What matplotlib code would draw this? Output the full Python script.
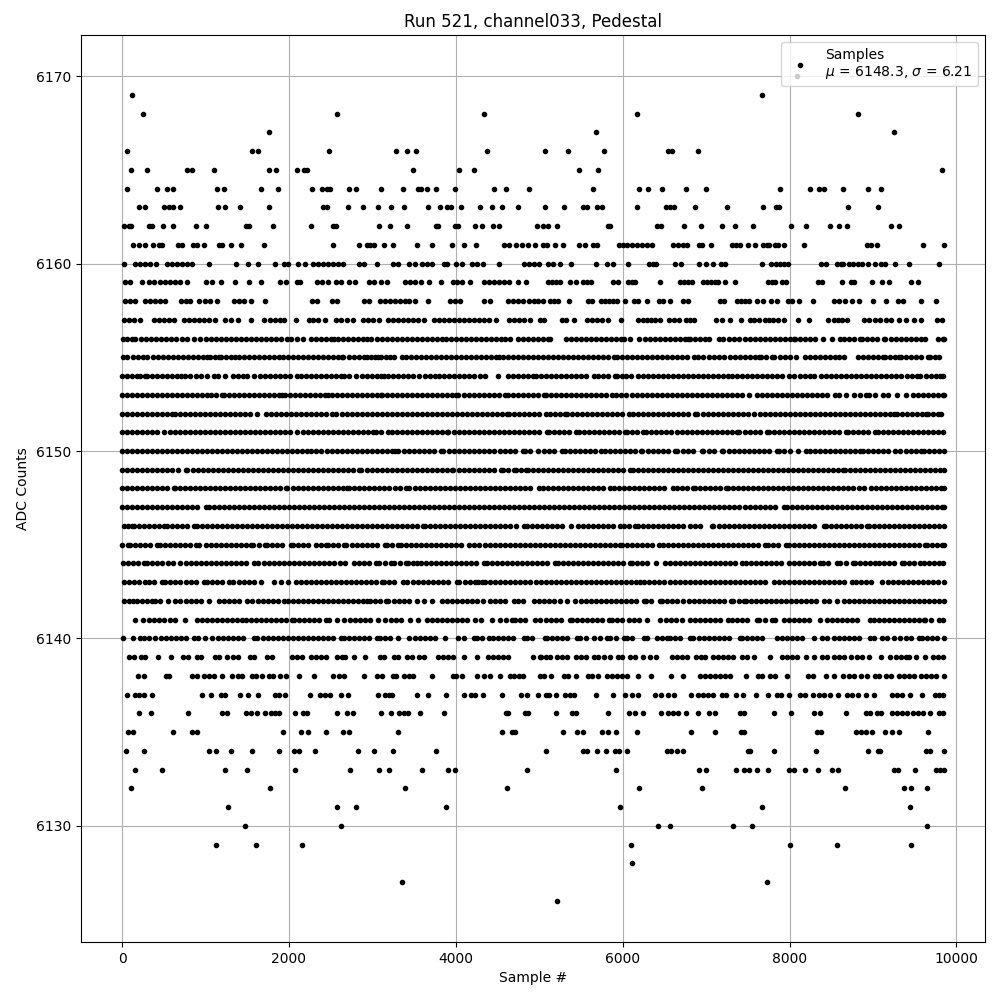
#!/usr/bin/env python3

'''
pedestal samples of one channel, values read off the picture row by row
'''

import matplotlib
matplotlib.use('Agg')
import matplotlib.pyplot as plt

# sample numbers at each ADC count
s6170=[8084]
s6169=[116, 7668]
s6168=[248, 2576, 4340, 6168, 8820]
s6167=[1760, 5676, 9252]
s6166=[56, 1556, 1628, 2480, 3284, 3416, 3524, 4376, 5064, 5340, 5772, 6540, 6588, 6900]
s6165=[104, 296, 776, 836, 1100, 1760, 1844, 2096, 2180, 2220, 3488, 4040, 4220, 5472, 5700, 9828]
s6164=[56, 416, 536, 608, 1136, 1220, 1664, 1868, 2276, 2396, 2452, 2492, 2720, 2804, 3104, 3368, 3548, 3588, 3656, 3764, 3992, 4460, 4604, 4880, 5640, 6192, 6300, 6468, 6756, 6996, 7884, 8244, 8352, 8412, 8640, 8940, 9096]
s6163=[200, 272, 500, 560, 608, 692, 1148, 1232, 1412, 1760, 2408, 2456, 2708, 2888, 3068, 3224, 3380, 3668, 3812, 3900, 3944, 4064, 4292, 4436, 4556, 4748, 5064, 5292, 5520, 5568, 5688, 5748, 6168, 6516, 6564, 6612, 6864, 7248, 7680, 7836, 7872, 8700, 9060]
s6162=[20, 80, 108, 320, 360, 488, 608, 884, 1004, 1484, 1524, 1808, 2264, 2528, 2568, 3080, 3212, 3416, 3764, 3788, 3992, 4028, 4232, 4316, 4448, 4520, 4968, 5040, 5100, 5208, 5820, 5844, 6408, 6456, 6732, 6936, 7188, 7344, 7560, 8016, 8196, 8484, 8592, 8688, 9216, 9312]
s6161=[128, 200, 272, 368, 440, 484, 668, 716, 848, 896, 980, 1160, 1196, 1304, 1424, 1700, 2528, 2840, 2936, 2972, 3020, 3140, 3248, 3536, 3716, 3956, 4100, 4244, 4580, 4640, 4724, 4796, 4868, 4944, 5040, 5088, 5184, 5280, 5472, 5544, 5640, 5688, 5952, 6000, 6048, 6108, 6168, 6228, 6288, 6348, 6600, 6660, 6720, 6768, 6912, 6948, 7056, 7308, 7356, 7404, 7500, 7584, 7680, 7728, 7752, 7824, 7860, 7932, 8172, 8928, 8976, 9048, 9600, 9850]
s6160=[20, 160, 220, 280, 340, 412, 540, 600, 660, 720, 772, 840, 1040, 1364, 1508, 1628, 1836, 1940, 1988, 2108, 2192, 2288, 2348, 2408, 2468, 2528, 2588, 2648, 2840, 2900, 3060, 3248, 3308, 3440, 3512, 3596, 3656, 3716, 3860, 3900, 4004, 4076, 4196, 4256, 4328, 4520, 4820, 4880, 4940, 5000, 5100, 5160, 5244, 5380, 5676, 5808, 5880, 6060, 6312, 6360, 6396, 6624, 6696, 6912, 6996, 7080, 7176, 7224, 7668, 7776, 7836, 7884, 7932, 7980, 8376, 8436, 8568, 8616, 8640, 8712, 8764, 8820, 8868, 8940, 9024, 9096, 9144, 9260, 9432, 9792]
s6159=[32, 92, 240, 320, 380, 460, 520, 580, 640, 700, 772, 1004, 1076, 1188, 1352, 1520, 1664, 1892, 1964, 2096, 2132, 2336, 2396, 2468, 2564, 2624, 2720, 2792, 2960, 3020, 3100, 3180, 3392, 3452, 3512, 3584, 3680, 3824, 3968, 4020, 4080, 4172, 4340, 4400, 4460, 4520, 4580, 4640, 4740, 4840, 5100, 5148, 5196, 5244, 5364, 5436, 5520, 5568, 5616, 5880, 5940, 6060, 6108, 6144, 6444, 6684, 6732, 6780, 6828, 6960, 7008, 7056, 7104, 7140, 7224, 7344, 7740, 7788, 7824, 7908, 7956, 8340, 8388, 8628, 8736, 8772, 8994, 9102, 9186, 9456, 9540]
s6158=[40, 100, 160, 280, 340, 400, 460, 520, 708, 760, 812, 920, 992, 1052, 1136, 1340, 1400, 1460, 1548, 1708, 2276, 2336, 2516, 2576, 2900, 2960, 3092, 3152, 3212, 3272, 3332, 3392, 3440, 3512, 3668, 3932, 3992, 4052, 4340, 4412, 4628, 4688, 4748, 4808, 4880, 4932, 4980, 5040, 5124, 5172, 5220, 5352, 5580, 5628, 5736, 5784, 5832, 5880, 5928, 6024, 6132, 6180, 6288, 6432, 6480, 6564, 6720, 6780, 7164, 7212, 7368, 7416, 7464, 7512, 7608, 7680, 7776, 7848, 7980, 8028, 8112, 8280, 8532, 8592, 8664, 8748, 8832, 8998, 9156, 9294, 9354, 9576, 9756]
s6157=[20, 80, 140, 220, 380, 440, 500, 560, 620, 740, 800, 860, 920, 980, 1040, 1112, 1232, 1304, 1388, 1540, 1700, 1772, 1832, 1892, 1940, 2084, 2240, 2288, 2348, 2432, 2564, 2624, 2696, 2768, 2888, 2948, 3008, 3080, 3188, 3248, 3308, 3368, 3428, 3488, 3548, 3620, 3740, 3800, 3860, 3920, 3980, 4040, 4100, 4160, 4220, 4280, 4340, 4400, 4480, 4640, 4700, 4760, 4820, 4892, 5004, 5052, 5268, 5316, 5412, 5568, 5628, 5688, 5748, 5820, 5976, 6180, 6240, 6288, 6336, 6384, 6444, 6552, 6612, 6672, 6756, 6804, 6852, 7116, 7188, 7284, 7416, 7524, 7572, 7632, 7704, 7752, 7800, 7860, 7932, 8100, 8232, 8460, 8532, 8580, 8628, 8688, 8898, 8958, 9030, 9090, 9150, 9210, 9306, 9390, 9486, 9570, 9762, 9822]
s6156=[10, 60, 120, 160, 228, 290, 350, 410, 470, 530, 590, 650, 720, 780, 860, 932, 1000, 1060, 1120, 1188, 1250, 1310, 1370, 1430, 1490, 1550, 1610, 1670, 1730, 1790, 1850, 1910, 1980, 2030, 2100, 2172, 2260, 2320, 2380, 2440, 2500, 2540, 2590, 2650, 2710, 2770, 2830, 2890, 2940, 2985, 3050, 3110, 3170, 3230, 3290, 3350, 3410, 3470, 3530, 3590, 3650, 3710, 3770, 3832, 3880, 3940, 4000, 4060, 4120, 4180, 4240, 4300, 4360, 4420, 4480, 4540, 4592, 4644, 4744, 4800, 4860, 4920, 4980, 5040, 5100, 5132, 5324, 5384, 5440, 5500, 5560, 5620, 5680, 5740, 5800, 5860, 5920, 5980, 6012, 6092, 6192, 6272, 6330, 6390, 6448, 6510, 6570, 6630, 6690, 6750, 6788, 6808, 6870, 6930, 6988, 7040, 7160, 7208, 7270, 7330, 7390, 7468, 7520, 7580, 7640, 7700, 7760, 7820, 7880, 7940, 8000, 8048, 8068, 8130, 8190, 8250, 8308, 8396, 8508, 8600, 8648, 8710, 8770, 8848, 8868, 8930, 8990, 9050, 9128, 9148, 9210, 9270, 9330, 9390, 9450, 9510, 9570, 9628, 9776, 9840, 9850]
s6155=[5, 60, 125, 185, 245, 300, 365, 425, 485, 545, 605, 665, 730, 790, 850, 910, 970, 1020, 1052, 1110, 1160, 1188, 1250, 1300, 1348, 1400, 1460, 1520, 1580, 1640, 1700, 1760, 1820, 1880, 1928, 1990, 2050, 2110, 2170, 2230, 2290, 2350, 2410, 2470, 2530, 2590, 2640, 2652, 2715, 2775, 2835, 2895, 2940, 2980, 3030, 3072, 3100, 3160, 3215, 3260, 3352, 3404, 3465, 3525, 3585, 3645, 3705, 3765, 3825, 3885, 3945, 4004, 4064, 4125, 4185, 4245, 4305, 4365, 4425, 4480, 4512, 4560, 4620, 4680, 4740, 4800, 4860, 4920, 4980, 5040, 5100, 5160, 5220, 5280, 5340, 5400, 5460, 5520, 5580, 5640, 5700, 5760, 5820, 5892, 5932, 5990, 6050, 6110, 6170, 6230, 6290, 6350, 6410, 6472, 6536, 6595, 6655, 6715, 6775, 6856, 6908, 6968, 7030, 7090, 7150, 7210, 7288, 7348, 7410, 7470, 7530, 7590, 7628, 7660, 7720, 7788, 7816, 7880, 7940, 8000, 8080, 8188, 8250, 8310, 8370, 8430, 8490, 8540, 8588, 8648, 8816, 8875, 8935, 8995, 9055, 9115, 9148, 9208, 9265, 9308, 9340, 9400, 9460, 9520, 9580, 9660, 9680, 9740, 9796]
s6154=[0, 60, 120, 180, 212, 272, 300, 360, 420, 480, 540, 600, 660, 712, 752, 815, 880, 945, 1020, 1100, 1148, 1228, 1332, 1395, 1455, 1500, 1580, 1652, 1715, 1775, 1835, 1895, 1955, 2015, 2092, 2148, 2200, 2260, 2320, 2380, 2440, 2500, 2560, 2620, 2660, 2720, 2800, 2880, 2932, 2990, 3050, 3100, 3140, 3192, 3244, 3305, 3365, 3425, 3484, 3564, 3625, 3685, 3752, 3800, 3860, 3920, 3980, 4040, 4100, 4160, 4220, 4292, 4352, 4504, 4620, 4680, 4740, 4800, 4860, 4924, 4960, 5020, 5080, 5140, 5200, 5260, 5320, 5380, 5440, 5500, 5560, 5660, 5700, 5760, 5820, 5904, 5932, 5990, 6044, 6100, 6184, 6245, 6305, 6365, 6425, 6485, 6545, 6605, 6665, 6725, 6785, 6845, 6905, 6965, 7025, 7085, 7145, 7205, 7265, 7308, 7368, 7430, 7490, 7550, 7610, 7670, 7730, 7790, 7850, 7908, 7988, 8050, 8128, 8180, 8240, 8296, 8376, 8435, 8495, 8555, 8615, 8675, 8735, 8795, 8855, 8915, 8975, 9035, 9095, 9155, 9215, 9276, 9336, 9408, 9468, 9528, 9568, 9630, 9690, 9750, 9800, 9840]
s6153=[0, 60, 120, 180, 240, 300, 360, 420, 480, 540, 600, 660, 720, 780, 840, 900, 960, 1020, 1060, 1130, 1200, 1220, 1285, 1345, 1405, 1465, 1525, 1585, 1645, 1705, 1765, 1825, 1885, 1920, 1948, 2010, 2070, 2130, 2190, 2250, 2310, 2370, 2430, 2472, 2520, 2580, 2640, 2700, 2760, 2820, 2880, 2940, 3000, 3060, 3100, 3120, 3180, 3240, 3300, 3360, 3420, 3480, 3540, 3600, 3652, 3712, 3775, 3835, 3895, 3955, 4004, 4032, 4095, 4155, 4215, 4275, 4335, 4395, 4455, 4515, 4592, 4620, 4680, 4740, 4800, 4860, 4920, 4980, 5052, 5076, 5140, 5200, 5260, 5320, 5380, 5440, 5500, 5560, 5620, 5680, 5740, 5800, 5872, 5920, 5980, 6040, 6112, 6172, 6235, 6295, 6355, 6415, 6475, 6535, 6595, 6655, 6715, 6775, 6835, 6895, 6955, 7015, 7075, 7135, 7195, 7255, 7315, 7375, 7435, 7516, 7608, 7670, 7730, 7790, 7850, 7910, 7970, 8030, 8090, 8150, 8210, 8270, 8330, 8390, 8450, 8548, 8588, 8676, 8768, 8840, 8916, 8956, 9028, 9116, 9180, 9288, 9396, 9476, 9535, 9595, 9655, 9715, 9775, 9835, 9850]
s6152=[2, 60, 120, 180, 240, 300, 360, 420, 480, 540, 600, 640, 692, 755, 815, 875, 935, 995, 1055, 1115, 1175, 1235, 1295, 1355, 1415, 1475, 1535, 1620, 1720, 1780, 1840, 1900, 1960, 2020, 2080, 2140, 2200, 2260, 2320, 2380, 2440, 2520, 2568, 2630, 2690, 2750, 2810, 2870, 2930, 2990, 3050, 3110, 3170, 3230, 3290, 3350, 3410, 3470, 3530, 3590, 3650, 3710, 3770, 3830, 3890, 3950, 4010, 4070, 4130, 4190, 4250, 4310, 4370, 4430, 4490, 4550, 4612, 4632, 4695, 4755, 4815, 4875, 4935, 4995, 5080, 5124, 5185, 5245, 5312, 5332, 5395, 5455, 5515, 5575, 5635, 5695, 5755, 5815, 5875, 5935, 5995, 6072, 6120, 6180, 6240, 6300, 6360, 6420, 6480, 6540, 6600, 6660, 6720, 6780, 6868, 6896, 6960, 7020, 7080, 7140, 7200, 7260, 7320, 7380, 7440, 7500, 7576, 7640, 7700, 7760, 7820, 7880, 7940, 8000, 8060, 8120, 8180, 8240, 8300, 8360, 8420, 8480, 8540, 8600, 8660, 8720, 8780, 8840, 8900, 8960, 9020, 9080, 9140, 9200, 9248, 9288, 9350, 9410, 9470, 9530, 9590, 9640, 9660, 9720, 9780, 9820]
s6151=[0, 60, 120, 180, 240, 300, 360, 420, 500, 572, 635, 695, 755, 815, 875, 935, 995, 1055, 1115, 1175, 1235, 1295, 1355, 1415, 1475, 1535, 1595, 1655, 1715, 1775, 1835, 1895, 1955, 2015, 2100, 2168, 2230, 2290, 2350, 2410, 2470, 2530, 2590, 2650, 2710, 2770, 2830, 2890, 2950, 3012, 3040, 3100, 3192, 3232, 3295, 3355, 3415, 3475, 3535, 3595, 3655, 3715, 3775, 3835, 3892, 3912, 3975, 4035, 4095, 4155, 4215, 4275, 4335, 4395, 4455, 4515, 4575, 4635, 4695, 4755, 4815, 4875, 4935, 4995, 5092, 5112, 5175, 5235, 5295, 5355, 5440, 5472, 5535, 5595, 5655, 5715, 5775, 5835, 5895, 5955, 6032, 6052, 6115, 6175, 6244, 6284, 6345, 6405, 6465, 6525, 6585, 6645, 6705, 6765, 6825, 6885, 6945, 7005, 7065, 7125, 7185, 7245, 7305, 7368, 7400, 7460, 7520, 7580, 7640, 7728, 7748, 7810, 7870, 7930, 7990, 8050, 8110, 8170, 8230, 8290, 8350, 8410, 8470, 8530, 8590, 8680, 8696, 8760, 8820, 8880, 8940, 9028, 9064, 9125, 9185, 9245, 9305, 9365, 9425, 9485, 9545, 9605, 9665, 9725, 9785, 9845]
s6150=[0, 60, 120, 180, 240, 300, 360, 420, 480, 540, 600, 660, 720, 780, 840, 900, 960, 1020, 1080, 1140, 1200, 1260, 1320, 1380, 1440, 1500, 1560, 1620, 1680, 1740, 1800, 1860, 1920, 1980, 2040, 2100, 2160, 2220, 2260, 2328, 2388, 2450, 2510, 2570, 2630, 2690, 2750, 2810, 2870, 2930, 2990, 3050, 3110, 3170, 3230, 3276, 3312, 3375, 3435, 3495, 3555, 3615, 3675, 3735, 3820, 3852, 3915, 3975, 4035, 4095, 4155, 4215, 4275, 4335, 4395, 4455, 4524, 4584, 4650, 4710, 4804, 4828, 4890, 4984, 5056, 5120, 5180, 5276, 5304, 5365, 5425, 5485, 5545, 5605, 5665, 5744, 5784, 5845, 5905, 5965, 6025, 6085, 6145, 6220, 6236, 6300, 6360, 6420, 6480, 6540, 6628, 6656, 6720, 6780, 6840, 6948, 6968, 7030, 7090, 7188, 7208, 7270, 7330, 7390, 7450, 7510, 7570, 7630, 7690, 7750, 7848, 7868, 7930, 8000, 8096, 8196, 8240, 8300, 8360, 8420, 8480, 8540, 8600, 8660, 8720, 8780, 8848, 8876, 8940, 9000, 9060, 9120, 9180, 9268, 9328, 9390, 9450, 9510, 9576, 9608, 9670, 9730, 9790, 9850]
s6149=[0, 60, 120, 180, 240, 300, 360, 420, 480, 540, 600, 668, 760, 780, 845, 905, 965, 1025, 1085, 1145, 1205, 1265, 1325, 1385, 1445, 1505, 1565, 1625, 1685, 1745, 1805, 1865, 1925, 1985, 2045, 2105, 2165, 2225, 2285, 2345, 2405, 2465, 2525, 2585, 2645, 2705, 2765, 2840, 2868, 2930, 2990, 3050, 3110, 3170, 3230, 3290, 3350, 3410, 3470, 3530, 3590, 3650, 3710, 3770, 3830, 3890, 3952, 3972, 4035, 4095, 4155, 4215, 4275, 4335, 4395, 4455, 4540, 4560, 4625, 4692, 4720, 4780, 4840, 4860, 4925, 4985, 5045, 5105, 5165, 5225, 5285, 5345, 5405, 5465, 5525, 5585, 5645, 5705, 5765, 5825, 5885, 5945, 6005, 6092, 6120, 6180, 6240, 6300, 6360, 6420, 6480, 6540, 6600, 6660, 6720, 6780, 6840, 6900, 6960, 7020, 7080, 7140, 7200, 7260, 7320, 7380, 7440, 7500, 7560, 7620, 7680, 7740, 7800, 7860, 7920, 7980, 8040, 8100, 8160, 8220, 8280, 8340, 8400, 8460, 8520, 8580, 8640, 8660, 8725, 8785, 8845, 8905, 8965, 9025, 9085, 9145, 9205, 9265, 9325, 9385, 9445, 9505, 9565, 9625, 9685, 9745, 9805, 9850]
s6148=[0, 60, 120, 180, 240, 300, 360, 420, 480, 540, 620, 632, 695, 755, 815, 875, 935, 995, 1055, 1115, 1175, 1235, 1295, 1355, 1415, 1475, 1535, 1595, 1655, 1715, 1775, 1835, 1895, 1960, 1980, 2045, 2105, 2165, 2225, 2285, 2345, 2405, 2465, 2525, 2585, 2645, 2700, 2720, 2785, 2845, 2905, 2965, 3025, 3085, 3145, 3205, 3265, 3325, 3404, 3444, 3505, 3565, 3625, 3685, 3745, 3805, 3865, 3925, 3985, 4045, 4105, 4165, 4225, 4285, 4345, 4405, 4465, 4525, 4585, 4645, 4705, 4765, 4825, 4885, 4992, 5040, 5100, 5160, 5220, 5280, 5340, 5400, 5460, 5520, 5580, 5640, 5700, 5760, 5852, 5900, 5952, 6015, 6075, 6135, 6195, 6255, 6315, 6375, 6435, 6495, 6600, 6648, 6710, 6770, 6840, 6864, 6925, 6985, 7045, 7105, 7165, 7236, 7268, 7320, 7380, 7440, 7500, 7560, 7620, 7680, 7740, 7800, 7860, 7920, 7980, 8040, 8100, 8160, 8220, 8280, 8340, 8400, 8460, 8520, 8580, 8640, 8700, 8760, 8836, 8888, 8976, 9040, 9100, 9160, 9220, 9280, 9340, 9400, 9460, 9520, 9580, 9640, 9700, 9760, 9820, 9850]
s6147=[0, 60, 120, 180, 240, 300, 360, 420, 480, 540, 600, 660, 720, 780, 840, 900, 1000, 1040, 1100, 1160, 1220, 1280, 1340, 1400, 1460, 1520, 1580, 1640, 1700, 1760, 1820, 1880, 1940, 2000, 2060, 2120, 2180, 2240, 2300, 2360, 2420, 2480, 2540, 2600, 2660, 2720, 2780, 2840, 2900, 2960, 3020, 3080, 3140, 3200, 3260, 3320, 3380, 3440, 3500, 3560, 3620, 3680, 3740, 3800, 3860, 3920, 3980, 4040, 4100, 4160, 4220, 4280, 4340, 4400, 4460, 4520, 4580, 4640, 4700, 4760, 4820, 4880, 4940, 5000, 5060, 5120, 5180, 5240, 5300, 5360, 5420, 5480, 5540, 5600, 5660, 5720, 5780, 5840, 5900, 5960, 6020, 6080, 6140, 6200, 6260, 6320, 6380, 6440, 6500, 6560, 6620, 6680, 6740, 6800, 6860, 6920, 6980, 7040, 7100, 7160, 7220, 7280, 7340, 7400, 7460, 7520, 7580, 7640, 7700, 7760, 7820, 7936, 7968, 8030, 8090, 8150, 8210, 8270, 8330, 8390, 8450, 8510, 8570, 8630, 8690, 8750, 8810, 8870, 8930, 8990, 9050, 9110, 9170, 9230, 9290, 9350, 9410, 9470, 9530, 9590, 9650, 9710, 9770, 9830, 9850]
s6146=[20, 70, 120, 140, 200, 260, 320, 380, 440, 500, 540, 600, 660, 720, 780, 860, 900, 960, 1020, 1080, 1140, 1200, 1260, 1320, 1380, 1440, 1500, 1560, 1620, 1680, 1740, 1800, 1860, 1920, 1980, 2040, 2100, 2160, 2220, 2280, 2340, 2400, 2460, 2520, 2580, 2640, 2700, 2760, 2820, 2880, 2940, 3000, 3060, 3120, 3180, 3240, 3300, 3360, 3420, 3480, 3540, 3612, 3632, 3695, 3755, 3815, 3875, 3935, 3995, 4055, 4115, 4175, 4235, 4295, 4355, 4415, 4475, 4535, 4592, 4644, 4720, 4812, 4852, 4915, 4975, 5035, 5095, 5155, 5215, 5275, 5384, 5460, 5520, 5580, 5640, 5700, 5760, 5820, 5880, 5972, 6012, 6080, 6144, 6184, 6245, 6305, 6365, 6425, 6485, 6545, 6605, 6665, 6728, 6808, 6870, 6930, 7068, 7088, 7150, 7210, 7270, 7330, 7390, 7450, 7510, 7570, 7630, 7690, 7750, 7810, 7870, 7930, 7990, 8050, 8110, 8170, 8230, 8290, 8408, 8440, 8500, 8560, 8620, 8680, 8740, 8800, 8860, 8928, 8948, 9010, 9070, 9130, 9190, 9250, 9310, 9370, 9430, 9490, 9550, 9610, 9670, 9730, 9790, 9850]
s6145=[0, 72, 100, 160, 220, 280, 340, 420, 452, 515, 575, 635, 695, 755, 815, 880, 924, 1000, 1060, 1120, 1180, 1240, 1300, 1360, 1420, 1480, 1540, 1572, 1640, 1708, 1740, 1800, 1860, 1920, 2020, 2048, 2110, 2170, 2232, 2328, 2390, 2440, 2468, 2530, 2590, 2660, 2688, 2750, 2810, 2870, 2930, 2990, 3050, 3152, 3172, 3240, 3312, 3340, 3400, 3460, 3520, 3580, 3640, 3700, 3760, 3820, 3880, 3940, 4000, 4060, 4152, 4220, 4280, 4344, 4404, 4465, 4525, 4585, 4645, 4705, 4765, 4825, 4885, 4945, 5005, 5065, 5125, 5185, 5245, 5305, 5365, 5425, 5485, 5545, 5605, 5665, 5725, 5785, 5845, 5905, 5972, 5992, 6055, 6115, 6175, 6235, 6295, 6355, 6432, 6480, 6545, 6605, 6665, 6725, 6785, 6845, 6905, 6965, 7025, 7085, 7145, 7205, 7265, 7325, 7385, 7445, 7505, 7565, 7625, 7708, 7736, 7800, 7860, 7960, 7988, 8050, 8110, 8170, 8230, 8290, 8350, 8410, 8470, 8530, 8590, 8650, 8710, 8770, 8830, 8890, 8950, 9010, 9070, 9130, 9190, 9250, 9310, 9370, 9430, 9490, 9550, 9628, 9648, 9710, 9770, 9830, 9850]
s6144=[8, 68, 130, 190, 260, 300, 360, 420, 480, 548, 612, 700, 760, 820, 880, 940, 1000, 1060, 1120, 1180, 1240, 1300, 1360, 1420, 1480, 1580, 1632, 1695, 1755, 1815, 1875, 1935, 1995, 2055, 2115, 2175, 2235, 2295, 2355, 2415, 2475, 2540, 2612, 2675, 2780, 2840, 2900, 2960, 3040, 3080, 3150, 3220, 3260, 3330, 3400, 3432, 3490, 3532, 3580, 3640, 3700, 3760, 3820, 3880, 3940, 4000, 4060, 4120, 4180, 4240, 4332, 4372, 4435, 4495, 4555, 4615, 4675, 4735, 4795, 4855, 4915, 4975, 5035, 5095, 5192, 5220, 5280, 5340, 5400, 5460, 5520, 5580, 5640, 5700, 5760, 5820, 5880, 5940, 6000, 6092, 6112, 6175, 6235, 6295, 6404, 6512, 6572, 6630, 6690, 6750, 6810, 6870, 6930, 6990, 7050, 7110, 7170, 7230, 7290, 7350, 7428, 7480, 7540, 7600, 7660, 7720, 7780, 7840, 7900, 7988, 8048, 8110, 8170, 8230, 8290, 8360, 8400, 8460, 8568, 8608, 8680, 8760, 8780, 8840, 8900, 8960, 9028, 9068, 9130, 9190, 9250, 9348, 9368, 9430, 9490, 9568, 9608, 9670, 9730, 9790, 9840]
s6143=[20, 80, 140, 200, 280, 320, 380, 480, 520, 580, 640, 700, 760, 820, 880, 980, 1012, 1080, 1140, 1200, 1280, 1332, 1400, 1460, 1520, 1580, 1660, 1820, 1900, 1988, 2080, 2140, 2200, 2260, 2320, 2380, 2440, 2500, 2560, 2620, 2680, 2740, 2800, 2860, 2920, 2980, 3040, 3112, 3140, 3200, 3260, 3364, 3412, 3484, 3545, 3605, 3665, 3725, 3785, 3845, 3905, 4012, 4044, 4110, 4170, 4232, 4260, 4312, 4352, 4415, 4475, 4535, 4595, 4655, 4715, 4775, 4835, 4895, 4955, 5015, 5075, 5135, 5195, 5255, 5315, 5375, 5435, 5495, 5555, 5615, 5675, 5735, 5795, 5855, 5915, 5975, 6035, 6095, 6155, 6212, 6252, 6315, 6375, 6435, 6495, 6572, 6630, 6690, 6750, 6810, 6870, 6930, 6990, 7050, 7110, 7170, 7230, 7290, 7350, 7410, 7470, 7530, 7590, 7650, 7710, 7808, 7876, 7928, 7990, 8050, 8110, 8170, 8230, 8290, 8350, 8410, 8470, 8530, 8590, 8650, 8748, 8800, 8860, 8920, 8980, 9108, 9180, 9240, 9300, 9360, 9420, 9480, 9540, 9600, 9660, 9720, 9780, 9850]
s6142=[20, 80, 130, 180, 240, 300, 360, 400, 460, 548, 640, 700, 760, 820, 880, 940, 1040, 1160, 1220, 1285, 1345, 1405, 1500, 1560, 1625, 1685, 1745, 1805, 1865, 1940, 1988, 2050, 2110, 2170, 2230, 2290, 2350, 2410, 2470, 2530, 2590, 2650, 2710, 2770, 2830, 2890, 2940, 2972, 3035, 3095, 3164, 3192, 3255, 3315, 3375, 3435, 3532, 3620, 3720, 3832, 3895, 3955, 4015, 4075, 4135, 4195, 4252, 4320, 4404, 4465, 4525, 4585, 4692, 4750, 4810, 4932, 4995, 5055, 5115, 5172, 5244, 5332, 5432, 5495, 5555, 5615, 5675, 5735, 5795, 5855, 5915, 5975, 6035, 6095, 6155, 6252, 6284, 6345, 6452, 6468, 6530, 6590, 6650, 6728, 6800, 6860, 6920, 6980, 7040, 7100, 7160, 7220, 7296, 7328, 7390, 7448, 7480, 7540, 7600, 7660, 7720, 7780, 7840, 7900, 7960, 8020, 8080, 8140, 8200, 8260, 8320, 8408, 8476, 8568, 8648, 8710, 8770, 8830, 8890, 8950, 9010, 9070, 9130, 9190, 9250, 9310, 9370, 9430, 9490, 9550, 9610, 9670, 9730, 9790, 9850]
s6141=[152, 248, 320, 380, 440, 500, 580, 632, 752, 900, 960, 1020, 1080, 1140, 1200, 1260, 1320, 1380, 1440, 1480, 1545, 1605, 1665, 1725, 1785, 1845, 1905, 1965, 2040, 2060, 2125, 2185, 2245, 2305, 2365, 2440, 2480, 2580, 2660, 2732, 2795, 2855, 2915, 2975, 3072, 3152, 3220, 3285, 3345, 3452, 3552, 3652, 3712, 3775, 3835, 3895, 3955, 4015, 4075, 4135, 4232, 4304, 4428, 4532, 4600, 4672, 4712, 4775, 4835, 4952, 5012, 5075, 5135, 5195, 5255, 5372, 5392, 5455, 5515, 5575, 5635, 5695, 5755, 5832, 5872, 5935, 5995, 6072, 6132, 6195, 6292, 6452, 6515, 6575, 6635, 6708, 6808, 6870, 6930, 6990, 7050, 7110, 7170, 7268, 7308, 7370, 7430, 7490, 7608, 7628, 7700, 7788, 7828, 7928, 7990, 8050, 8110, 8170, 8230, 8368, 8448, 8510, 8570, 8630, 8690, 8750, 8810, 8968, 9008, 9070, 9130, 9190, 9250, 9310, 9370, 9430, 9490, 9550, 9608, 9628, 9690, 9788, 9840]
s6140=[12, 132, 212, 265, 320, 400, 465, 525, 585, 645, 705, 760, 860, 908, 988, 1080, 1148, 1210, 1270, 1330, 1390, 1450, 1580, 1620, 1685, 1745, 1805, 1865, 1925, 1985, 2045, 2105, 2165, 2225, 2285, 2345, 2405, 2465, 2525, 2620, 2660, 2725, 2785, 2845, 2905, 2965, 3060, 3092, 3155, 3215, 3312, 3444, 3505, 3565, 3625, 3685, 3745, 3872, 4032, 4095, 4212, 4252, 4315, 4392, 4444, 4505, 4565, 4625, 4685, 4812, 4852, 4915, 5072, 5092, 5155, 5215, 5275, 5335, 5452, 5492, 5555, 5652, 5732, 5812, 5852, 5915, 6012, 6052, 6115, 6252, 6292, 6412, 6468, 6528, 6568, 6630, 6690, 6808, 6848, 6910, 6970, 7030, 7090, 7150, 7210, 7270, 7408, 7428, 7490, 7550, 7610, 7670, 7848, 7908, 7970, 8030, 8090, 8150, 8288, 8388, 8450, 8528, 8588, 8650, 8710, 8770, 8830, 8968, 9008, 9108, 9170, 9248, 9328, 9390, 9450, 9548, 9588, 9650, 9710, 9770, 9850]
s6139=[80, 140, 232, 280, 428, 584, 728, 788, 900, 948, 1112, 1160, 1256, 1328, 1388, 1532, 1580, 1736, 1796, 2036, 2096, 2156, 2264, 2324, 2384, 2444, 2576, 2636, 2672, 2776, 2912, 3092, 3140, 3260, 3308, 3416, 3476, 3560, 3620, 3788, 3848, 3908, 3968, 4100, 4256, 4388, 4448, 4508, 4568, 4628, 4928, 5012, 5016, 5076, 5132, 5208, 5268, 5328, 5436, 5496, 5556, 5652, 5700, 5772, 5844, 5940, 5988, 6084, 6144, 6240, 6332, 6396, 6588, 6648, 6708, 6768, 6876, 6936, 6984, 7080, 7140, 7200, 7260, 7320, 7428, 7488, 7572, 7764, 7908, 7968, 8028, 8088, 8196, 8292, 8392, 8452, 8532, 8592, 8652, 8736, 8808, 8868, 8952, 9096, 9204, 9276, 9336, 9396, 9432, 9516, 9624, 9720, 9780, 9840]
s6138=[188, 260, 524, 560, 836, 896, 980, 1040, 1100, 1196, 1316, 1388, 1436, 1556, 1604, 1676, 1760, 1808, 1892, 1964, 2120, 2300, 2528, 2600, 2660, 2904, 3056, 3116, 3248, 3284, 3380, 3440, 3488, 3716, 3968, 4004, 4076, 4256, 4340, 4412, 4532, 4652, 4700, 4760, 4808, 5004, 5052, 5136, 5292, 5340, 5436, 5580, 5628, 5700, 5808, 5868, 5928, 5988, 6048, 6180, 6336, 6576, 6724, 6924, 6984, 7044, 7104, 7164, 7224, 7284, 7476, 7620, 7668, 7764, 7824, 7968, 8220, 8280, 8436, 8532, 8640, 8712, 8772, 8856, 8928, 9024, 9072, 9156, 9216, 9312, 9372, 9432, 9492, 9576, 9636, 9696, 9756, 9850]
s6137=[56, 152, 200, 260, 364, 956, 1064, 1184, 1232, 1412, 1508, 1628, 1832, 1884, 1952, 2252, 2372, 2432, 2492, 2624, 2708, 3068, 3152, 3200, 3236, 3532, 3668, 3884, 4100, 4184, 4232, 4328, 4556, 4784, 4856, 4980, 5076, 5112, 5196, 5304, 5364, 5412, 5676, 5880, 6024, 6108, 6180, 6384, 6456, 6540, 6612, 6816, 6900, 6960, 7020, 7080, 7188, 7236, 7356, 7440, 7596, 7740, 7848, 7896, 7992, 8124, 8184, 8280, 8352, 8412, 8484, 8580, 8688, 8748, 8820, 8916, 9012, 9228, 9288, 9348, 9444, 9588, 9744, 9792, 9840]
s6136=[200, 344, 788, 1196, 1256, 1484, 1544, 1616, 1712, 1784, 1832, 1880, 2072, 2168, 2216, 2576, 2696, 2768, 3104, 3224, 3320, 3380, 3428, 3572, 3860, 4604, 4628, 4832, 4868, 5196, 5388, 5436, 5820, 6072, 6144, 6240, 6456, 6540, 6600, 6660, 6756, 6900, 7032, 7104, 7404, 7452, 7812, 8016, 8292, 8364, 8676, 8916, 8964, 9048, 9096, 9228, 9288, 9348, 9408, 9480, 9540, 9600, 9684, 9792, 9840]
s6135=[68, 128, 608, 836, 896, 1928, 2144, 2228, 2444, 2648, 2720, 3308, 4556, 4676, 4712, 5280, 5448, 5520, 5748, 5820, 5916, 6168, 6816, 7104, 7416, 7452, 8328, 8376, 8796, 8856, 8916, 8988, 9144, 9228, 9312, 9660]
s6134=[44, 260, 1040, 1124, 1304, 1556, 1880, 2060, 2120, 2312, 2828, 3020, 3248, 3764, 5076, 5520, 5568, 5688, 5796, 5904, 5952, 6048, 6528, 6576, 6648, 6720, 7500, 7524, 7812, 8316, 8940, 9060, 9084, 9636, 9684, 9850]
s6133=[152, 476, 1232, 1496, 2072, 2732, 3080, 3200, 3596, 3908, 3992, 4856, 5916, 6912, 6996, 7356, 7452, 7512, 7608, 7740, 7992, 8052, 8184, 8340, 8508, 8580, 9252, 9300, 9504, 9756, 9804, 9850]
s6132=[104, 1772, 3392, 4616, 6192, 6948, 8664, 9372, 9456, 9648]
s6131=[1268, 2576, 2804, 3884, 5964, 7668, 9444]
s6130=[1472, 2624, 6420, 6564, 7320, 7548, 9648]
s6129=[1124, 1604, 2156, 6096, 8004, 8568, 9456]
s6128=[6108]
s6127=[3356, 7728]
s6126=[5208]

counts=[6170, 6169, 6168, 6167, 6166, 6165, 6164, 6163, 6162, 6161, 6160,
        6159, 6158, 6157, 6156, 6155, 6154, 6153, 6152, 6151, 6150, 6149,
        6148, 6147, 6146, 6145, 6144, 6143, 6142, 6141, 6140, 6139, 6138,
        6137, 6136, 6135, 6134, 6133, 6132, 6131, 6130, 6129, 6128, 6127, 6126]
samples=[s6170, s6169, s6168, s6167, s6166, s6165, s6164, s6163, s6162, s6161, s6160,
         s6159, s6158, s6157, s6156, s6155, s6154, s6153, s6152, s6151, s6150, s6149,
         s6148, s6147, s6146, s6145, s6144, s6143, s6142, s6141, s6140, s6139, s6138,
         s6137, s6136, s6135, s6134, s6133, s6132, s6131, s6130, s6129, s6128, s6127, s6126]

xs=[]
ys=[]
for count, row in zip(counts, samples):
    xs+=row
    ys+=[count]*len(row)

fig, ax=plt.subplots(figsize=(10, 10))
ax.plot(xs, ys, '.', color='black', markersize=6,
        label='Samples\n$\\mu$ = 6148.3, $\\sigma$ = 6.21')
ax.set_xlabel('Sample #')
ax.set_ylabel('ADC Counts')
ax.set_title('Run 521, channel033, Pedestal')
ax.grid(True)
ax.legend(loc='upper right')
fig.subplots_adjust(left=0.081, right=0.985, top=0.965, bottom=0.058)
fig.savefig('out.png', dpi=100)
